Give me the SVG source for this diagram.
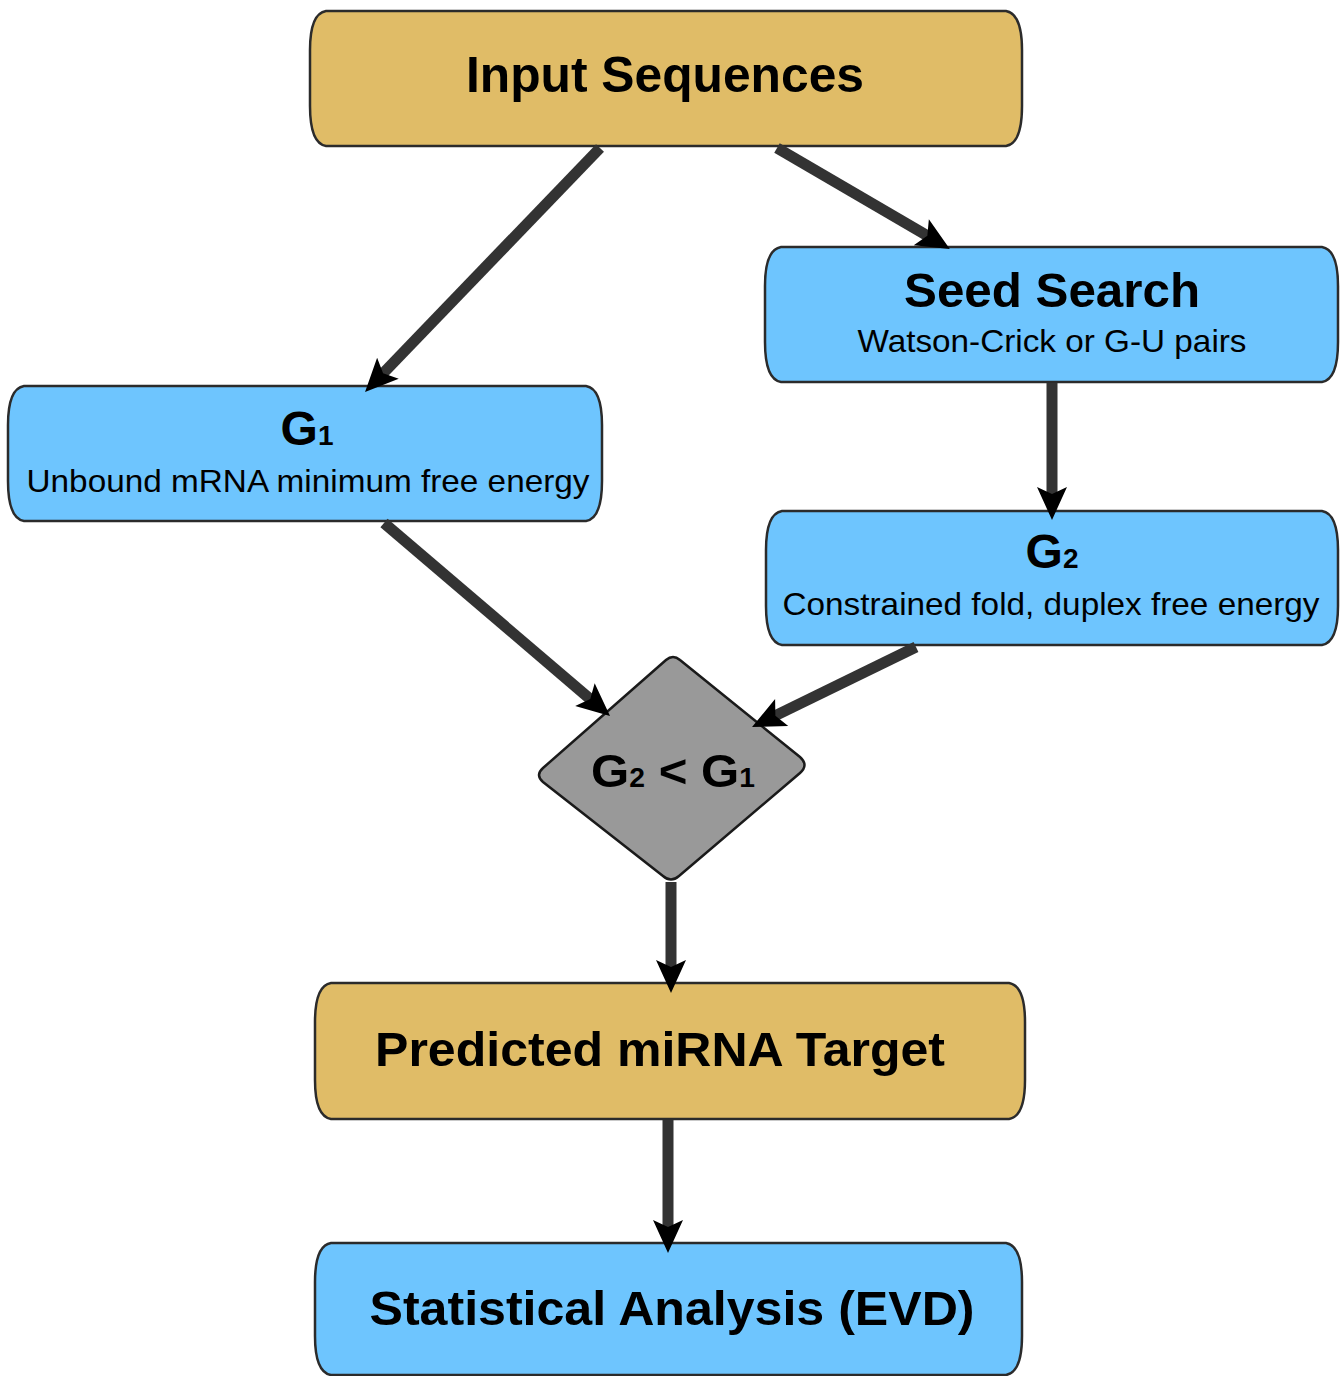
<svg xmlns="http://www.w3.org/2000/svg" width="1341" height="1376" viewBox="0 0 1341 1376">
<style>
.gold{fill:#E0BC67;stroke:#2b2b2b;stroke-width:2.5}
.blue{fill:#6EC5FE;stroke:#2b2b2b;stroke-width:2.5}
.gray{fill:#999999;stroke:#1a1a1a;stroke-width:2.5}
.t{font-family:"Liberation Sans",Arial,sans-serif;font-weight:bold;fill:#000;text-anchor:middle}
.s{font-family:"Liberation Sans",Arial,sans-serif;fill:#000;text-anchor:middle}
.c{stroke:#333;stroke-width:11;fill:none}
</style>
<defs>
<marker id="ah" markerUnits="userSpaceOnUse" viewBox="-2 -17 36 34" markerWidth="36" markerHeight="34" refX="11" refY="0" orient="auto">
<path d="M0,-15 L33,0 L0,15 L7,0 Z" fill="#000"/>
</marker>
</defs>
<g id="input">
<path class="gold" d="M326,11 H1006 C1018,13 1022,30 1022,50 V106 C1022,126 1018,144 1006,146 H326 C314,144 310,126 310,106 V50 C310,30 314,13 326,11 Z"/>
<text class="t" x="665" y="92" font-size="50" textLength="398" lengthAdjust="spacingAndGlyphs">Input Sequences</text>
</g>
<g id="seed">
<path class="blue" d="M781,247 H1322 C1334,249 1338,266 1338,286 V342 C1338,362 1334,380 1322,382 H781 C769,380 765,362 765,342 V286 C765,266 769,249 781,247 Z"/>
<text class="t" x="1052" y="307" font-size="48" textLength="296" lengthAdjust="spacingAndGlyphs">Seed Search</text>
<text class="s" x="1052" y="352" font-size="32" textLength="389" lengthAdjust="spacingAndGlyphs">Watson-Crick or G-U pairs</text>
</g>
<g id="g1">
<path class="blue" d="M24,386 H586 C598,388 602,405 602,425 V481 C602,501 598,519 586,521 H24 C12,519 8,501 8,481 V425 C8,405 12,388 24,386 Z"/>
<text class="t" x="307" y="445" font-size="48">G<tspan font-size="28">1</tspan></text>
<text class="s" x="308" y="492" font-size="32" textLength="563" lengthAdjust="spacingAndGlyphs">Unbound mRNA minimum free energy</text>
</g>
<g id="g2">
<path class="blue" d="M782,511 H1322 C1334,513 1338,530 1338,550 V606 C1338,626 1334,643 1322,645 H782 C770,643 766,626 766,606 V550 C766,530 770,513 782,511 Z"/>
<text class="t" x="1052" y="568" font-size="48">G<tspan font-size="28">2</tspan></text>
<text class="s" x="1051" y="615" font-size="32" textLength="537" lengthAdjust="spacingAndGlyphs">Constrained fold, duplex free energy</text>
</g>
<g id="decision">
<path class="gray" d="M666,660 Q673,654 680,660 L800,757 Q809,765 800,773 L679,876 Q671,883 663,876 L543,782 Q535,775 543,768 Z"/>
<text class="t" x="673" y="787" font-size="47" textLength="164" lengthAdjust="spacingAndGlyphs">G<tspan font-size="27">2</tspan> &lt; G<tspan font-size="27">1</tspan></text>
</g>
<g id="predicted">
<path class="gold" d="M331,983 H1009 C1021,985 1025,1002 1025,1022 V1080 C1025,1100 1021,1117 1009,1119 H331 C319,1117 315,1100 315,1080 V1022 C315,1002 319,985 331,983 Z"/>
<text class="t" x="660" y="1066" font-size="48" textLength="570" lengthAdjust="spacingAndGlyphs">Predicted miRNA Target</text>
</g>
<g id="stats">
<path class="blue" d="M331,1243 H1006 C1018,1245 1022,1262 1022,1282 V1336 C1022,1356 1018,1373 1006,1375 H331 C319,1373 315,1356 315,1336 V1282 C315,1262 319,1245 331,1243 Z"/>
<text class="t" x="672" y="1325" font-size="48" textLength="605" lengthAdjust="spacingAndGlyphs">Statistical Analysis (EVD)</text>
</g>
<g id="connectors">
<line class="c" x1="600" y1="148" x2="380.3" y2="376.2" marker-end="url(#ah)"/>
<line class="c" x1="777" y1="148" x2="930.8" y2="237.8" marker-end="url(#ah)"/>
<line class="c" x1="1052" y1="383" x2="1052" y2="498" marker-end="url(#ah)"/>
<line class="c" x1="384" y1="523" x2="593.3" y2="701.7" marker-end="url(#ah)"/>
<line class="c" x1="916" y1="647" x2="771.8" y2="717.4" marker-end="url(#ah)"/>
<line class="c" x1="671" y1="882" x2="671" y2="971" marker-end="url(#ah)"/>
<line class="c" x1="668" y1="1120" x2="668" y2="1231" marker-end="url(#ah)"/>
</g>
</svg>
